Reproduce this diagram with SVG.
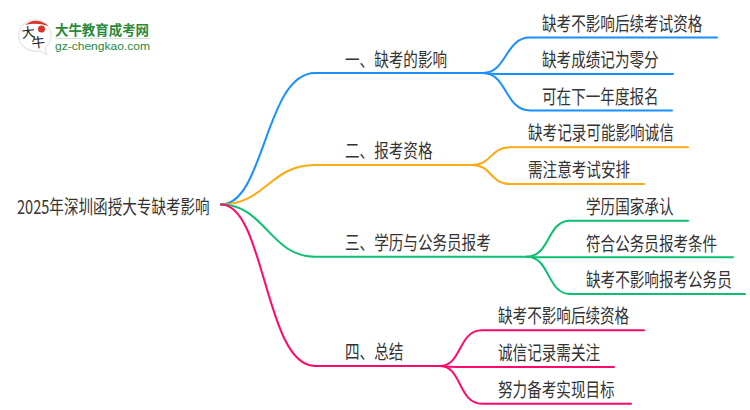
<svg xmlns="http://www.w3.org/2000/svg" width="750" height="410" viewBox="0 0 750 410">
<style>
text{font-family:"Noto Sans CJK SC","Noto Sans",sans-serif;fill:#333;font-size:19px}
.c{fill:none;stroke-linecap:round;stroke-width:2}
.b{stroke:#1890ff}.o{stroke:#fbab14}.g{stroke:#0cc06f}.r{stroke:#ff0a6c}
</style>
<rect width="750" height="410" fill="#fff"/>
<g id="logo">
<path d="M36 20a15.500 15.500 0 0 0-7 30c4 1.500 8 1.500 11 1l7 4-2-7a15.500 15.500 0 0 0-9-28z" fill="#fff" stroke="#ddd" stroke-width="1"/>
<path d="M25 25q10-8 21-1l2 2q-11-4-23-1z" fill="#d8322a"/>
<circle cx="41.500" cy="29" r="3.500" fill="#d8322a"/>
<text transform="translate(22 38) rotate(-6)" style="font-size:13.500px;fill:#222">大</text>
<text transform="translate(32 48) rotate(-6)" style="font-size:13.500px;fill:#222">牛</text>
<text transform="translate(55 35) scale(.96 1)" style="font-size:14px;font-weight:700;fill:#2a8a3c">大牛教育成考网</text>
<rect x="55" y="38" width="95" height="1" fill="#cfe3d2"/>
<text x="55" y="50" textLength="95" lengthAdjust="spacingAndGlyphs" style="font-size:11.500px;fill:#2a8a3c;font-family:'Liberation Sans',sans-serif">gz-chengkao.com</text>
</g>
<g id="connectors">
<path class="c b" d="M221 204.500C265 204.500 265 73 315 73H483"/>
<path class="c o" d="M221 204.500C265 204.500 270 165 315 165H472"/>
<path class="c g" d="M221 204.500C265 204.500 270 256.700 315 256.700H527"/>
<path class="c r" d="M221 204.500C265 204.500 265 366 315 366H440"/>
<path class="c b" d="M483 73C507 73 505 37.500 530 37.500H717"/>
<path class="c b" d="M483 73Q490 74 500 74H673"/>
<path class="c b" d="M483 73C507 73 505 110.500 530 110.500H672"/>
<path class="c o" d="M472 165C492 165 490 147.300 510 147.300H688"/>
<path class="c o" d="M472 165C492 165 490 184 510 184H644"/>
<path class="c g" d="M527 256.700C550 256.700 547 220.700 570 220.700H688"/>
<path class="c g" d="M527 256.700Q535 257.300 545 257.300H733"/>
<path class="c g" d="M527 256.700C550 256.700 547 294 570 294H745"/>
<path class="c r" d="M440 366C462 366 458 330.300 482 330.300H644"/>
<path class="c r" d="M440 366Q448 367 458 367H614"/>
<path class="c r" d="M440 366C462 366 458 403.700 482 403.700H631"/>
</g>
<g id="root"><text transform="translate(17 214) scale(.768 1)">2025年深圳函授大专缺考影响</text></g>
<g id="n1"><text transform="translate(345 67) scale(.768 1)">一、缺考的影响</text></g>
<g id="n2"><text transform="translate(345 158) scale(.768 1)">二、报考资格</text></g>
<g id="n3"><text transform="translate(345 250) scale(.768 1)">三、学历与公务员报考</text></g>
<g id="n4"><text transform="translate(345 359) scale(.768 1)">四、总结</text></g>
<g id="n1a"><text transform="translate(542 31) scale(.768 1)">缺考不影响后续考试资格</text></g>
<g id="n1b"><text transform="translate(542 67) scale(.768 1)">缺考成绩记为零分</text></g>
<g id="n1c"><text transform="translate(542 104) scale(.768 1)">可在下一年度报名</text></g>
<g id="n2a"><text transform="translate(528 140) scale(.768 1)">缺考记录可能影响诚信</text></g>
<g id="n2b"><text transform="translate(528 177) scale(.768 1)">需注意考试安排</text></g>
<g id="n3a"><text transform="translate(586 214) scale(.768 1)">学历国家承认</text></g>
<g id="n3b"><text transform="translate(586 251) scale(.768 1)">符合公务员报考条件</text></g>
<g id="n3c"><text transform="translate(586 287) scale(.768 1)">缺考不影响报考公务员</text></g>
<g id="n4a"><text transform="translate(498 323) scale(.768 1)">缺考不影响后续资格</text></g>
<g id="n4b"><text transform="translate(498 360) scale(.768 1)">诚信记录需关注</text></g>
<g id="n4c"><text transform="translate(498 397) scale(.768 1)">努力备考实现目标</text></g>
</svg>
